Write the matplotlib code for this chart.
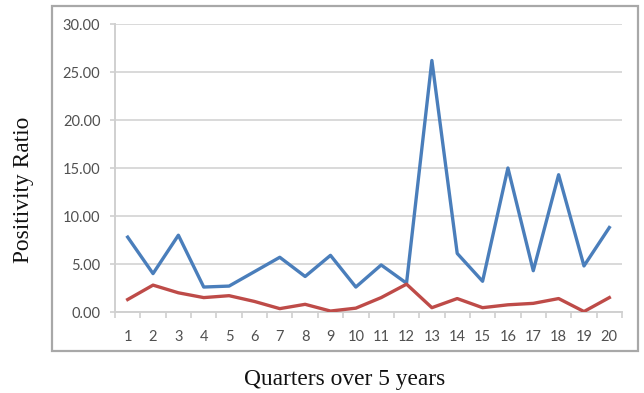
import matplotlib
matplotlib.use("Agg")
import matplotlib.pyplot as plt
from matplotlib.patches import Rectangle
import numpy as np

quarters = list(range(1, 21))
series_blue = [7.8, 4.0, 8.0, 2.6, 2.7, 4.2, 5.7, 3.7, 5.9, 2.6,
               4.9, 3.0, 26.2, 6.1, 3.2, 15.0, 4.3, 14.3, 4.8, 8.8]
series_red = [1.3, 2.8, 2.0, 1.5, 1.7, 1.1, 0.35, 0.8, 0.1, 0.4,
              1.5, 2.9, 0.45, 1.4, 0.45, 0.75, 0.9, 1.4, 0.05, 1.5]
y_ticks = [0, 5, 10, 15, 20, 25, 30]
y_tick_labels = ["0.00", "5.00", "10.00", "15.00", "20.00", "25.00", "30.00"]

W, H = 644, 393
fig = plt.figure(figsize=(W / 100, H / 100), dpi=100)

# outer chart border
fig.patches.append(Rectangle((52 / W, 1 - 351 / H), (638 - 52) / W, (351 - 6) / H,
                             transform=fig.transFigure, fill=False,
                             edgecolor="#A8A8A8", linewidth=1.6, zorder=0))

ax = fig.add_axes([115 / W, 1 - 312 / H, (622 - 115) / W, (312 - 24) / H])
ax.plot(quarters, series_blue, color="#4A7EBB", linewidth=2.4, zorder=3)
ax.plot(quarters, series_red, color="#BE4B48", linewidth=2.4, zorder=3)

ax.set_xlim(0.5, 20.5)
ax.set_ylim(0, 30)
ax.set_yticks(y_ticks)
ax.set_yticklabels(y_tick_labels)
ax.set_xticks(quarters)
ax.set_xticklabels([str(q) for q in quarters])
ax.set_xticks(np.arange(0.5, 21, 1), minor=True)

ax.grid(axis="y", color="#D9D9D9", linewidth=1.4, zorder=0)
ax.set_axisbelow(True)
for s in ["top", "right"]:
    ax.spines[s].set_visible(False)
ax.spines["left"].set_color("#D0D0D0")
ax.spines["bottom"].set_color("#D0D0D0")
ax.spines["left"].set_linewidth(1.4)
ax.spines["bottom"].set_linewidth(1.4)

ax.tick_params(axis="y", which="major", length=3.5, width=1.2, color="#D0D0D0",
               pad=7, labelcolor="#505050")
ax.tick_params(axis="x", which="major", length=0, pad=13, labelcolor="#505050")
ax.tick_params(axis="x", which="minor", length=4, width=1.2, color="#D0D0D0")
for lab in ax.get_xticklabels() + ax.get_yticklabels():
    lab.set_fontfamily("Lato")
    lab.set_fontsize(10.5)

fig.text(24 / W, 1 - 190 / H, "Positivity Ratio", rotation=90, ha="center", va="center",
         family="Liberation Serif", fontsize=16.8, color="#111111")
fig.text(345 / W, 1 - 379 / H, "Quarters over 5 years", ha="center", va="center",
         family="Liberation Serif", fontsize=16.8, color="#111111")

fig.savefig("out.png", dpi=100)
